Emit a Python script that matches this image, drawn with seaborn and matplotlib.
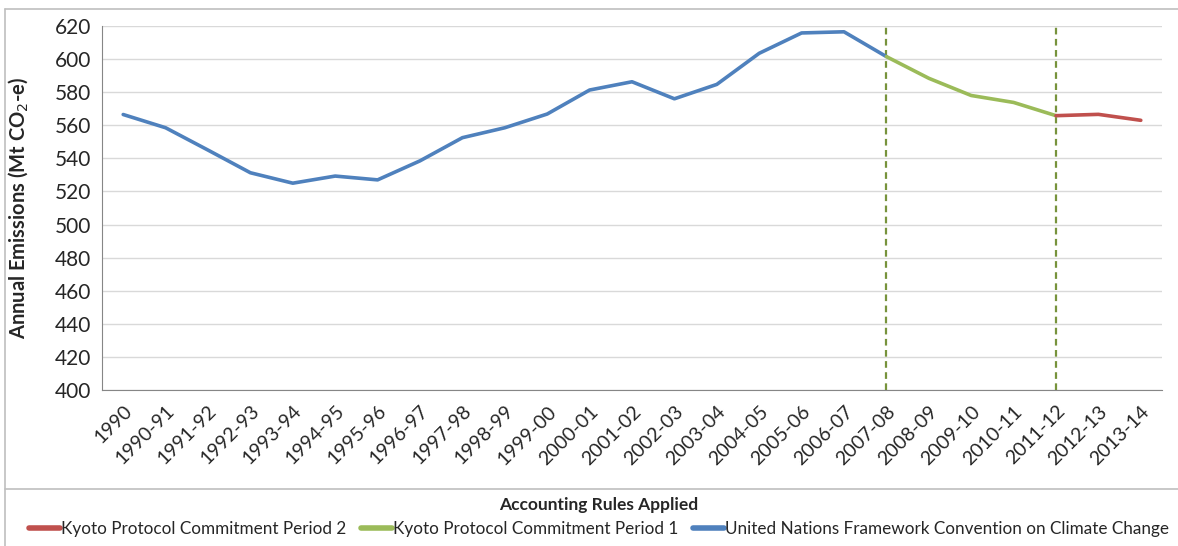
import numpy as np
import pandas as pd
import matplotlib
matplotlib.use("Agg")
import matplotlib.pyplot as plt
from matplotlib.lines import Line2D
import seaborn as sns

# Financial years on the x axis
years = ["1990", "1990-91", "1991-92", "1992-93", "1993-94", "1994-95", "1995-96",
         "1996-97", "1997-98", "1998-99", "1999-00", "2000-01", "2001-02", "2002-03",
         "2003-04", "2004-05", "2005-06", "2006-07", "2007-08", "2008-09", "2009-10",
         "2010-11", "2011-12", "2012-13", "2013-14"]

# Annual emissions (Mt CO2-e)
emissions = [566.5, 558.5, 545.0, 531.3, 525.0, 529.3, 527.0, 538.5, 552.5, 558.5,
             566.8, 581.3, 586.3, 576.0, 584.7, 603.5, 615.8, 616.5, 601.5, 588.4,
             578.0, 573.8, 565.8, 566.6, 563.0]

# accounting rule segments (first / last year index, inclusive)
unfccc_range = (0, 18)
kp1_range = (18, 22)
kp2_range = (22, 24)

label_unfccc = "United Nations Framework Convention on Climate Change"
label_kp1 = "Kyoto Protocol Commitment Period 1"
label_kp2 = "Kyoto Protocol Commitment Period 2"

colors = {label_unfccc: "#4F81BD", label_kp1: "#9BBB59", label_kp2: "#C0504D"}

# build long table, segments share their boundary points
rows = []
for label, (a, b) in [(label_unfccc, unfccc_range), (label_kp1, kp1_range), (label_kp2, kp2_range)]:
    for i in range(a, b + 1):
        rows.append({"x": i, "year": years[i], "value": emissions[i], "rules": label})
df = pd.DataFrame(rows)

sns.set_style("white")
plt.rcParams["font.family"] = ["Lato", "DejaVu Sans"]

W, H = 1178, 546
fig = plt.figure(figsize=(W / 100, H / 100), dpi=100)
ax = fig.add_axes([102 / W, 1 - 390 / H, 1060 / W, 364 / H])

sns.lineplot(data=df, x="x", y="value", hue="rules", palette=colors,
             linewidth=2.6, ax=ax, legend=False, sort=False, estimator=None)

# period boundaries
for idx in (kp1_range[0], kp2_range[0]):
    ax.axvline(idx, color="#77933C", linestyle=(0, (3, 2)), linewidth=1.6, zorder=1)

ax.set_xlim(-0.5, len(years) - 0.5)
ax.set_ylim(400, 620)
ax.set_yticks(np.arange(400, 621, 20))
ax.grid(axis="y", color="#D9D9D9", linewidth=1.0)
ax.set_axisbelow(True)

ax.set_xticks(range(len(years)))
ax.set_xticklabels(years, rotation=45, ha="right", rotation_mode="anchor", fontsize=14)
ax.set_xticks(np.arange(-0.5, len(years), 1), minor=True)
ax.tick_params(axis="x", which="major", length=0, pad=9)
ax.tick_params(axis="x", which="minor", length=5, color="#868686", direction="out")
ax.tick_params(axis="y", length=5, color="#868686", direction="out", labelsize=15, pad=3)
ax.set_xlabel("")
ax.set_ylabel("Annual Emissions (Mt CO$_2$-e)", fontsize=14.5, fontweight="bold")
ax.yaxis.set_label_coords(-72 / 1060, 0.5)

for side in ("top", "right"):
    ax.spines[side].set_visible(False)
for side in ("left", "bottom"):
    ax.spines[side].set_color("#868686")

# outer frame and legend separator
fig.add_artist(Line2D([5 / W, 1], [1 - 9 / H, 1 - 9 / H], color="#BFBFBF", linewidth=1.2))
fig.add_artist(Line2D([5 / W, 5 / W], [0, 1 - 9 / H], color="#BFBFBF", linewidth=1.2))
fig.add_artist(Line2D([5 / W, 1], [1 - 489 / H, 1 - 489 / H], color="#BFBFBF", linewidth=1.2))

handles = [Line2D([], [], color=colors[l], linewidth=4) for l in (label_kp2, label_kp1, label_unfccc)]
labels = [label_kp2, label_kp1, label_unfccc]
leg = fig.legend(handles, labels, title="Accounting Rules Applied", loc="upper center",
                 bbox_to_anchor=(0.5 + 10 / W, 1 - 497 / H), ncol=3, frameon=False, fontsize=12.3,
                 handlelength=1.8, handletextpad=0.05, columnspacing=0.9,
                 borderaxespad=0, borderpad=0, labelspacing=0.2,
                 title_fontproperties={"weight": "bold", "size": 12.5})
leg._legend_box.sep = 6

fig.savefig("out.png", dpi=100)
